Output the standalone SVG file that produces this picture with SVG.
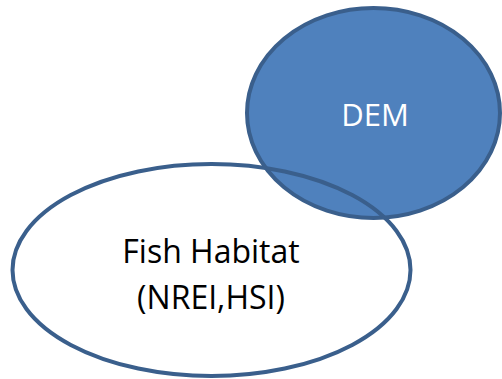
<svg xmlns="http://www.w3.org/2000/svg" width="502" height="379" viewBox="0 0 502 379">
<style>
.shape{stroke:#3A5F8C;stroke-width:4}
.lbl{font-family:"Open Sans","Liberation Sans",sans-serif;text-anchor:middle}
</style>
<rect width="502" height="379" fill="#ffffff"/>
<g id="dem">
<ellipse class="shape" cx="373.5" cy="113" rx="126.5" ry="105" fill="#4F81BD"/>
<text class="lbl" x="375" y="126" fill="#ffffff" font-size="31">DEM</text>
</g>
<g id="fish-habitat">
<ellipse class="shape" cx="211.5" cy="270" rx="199" ry="106" fill="none"/>
<text class="lbl" x="211" y="263" fill="#000000" font-size="32">Fish Habitat</text>
<text class="lbl" x="211" y="309" fill="#000000" font-size="32">(NREI,HSI)</text>
</g>
<g id="connectors"></g>
</svg>
